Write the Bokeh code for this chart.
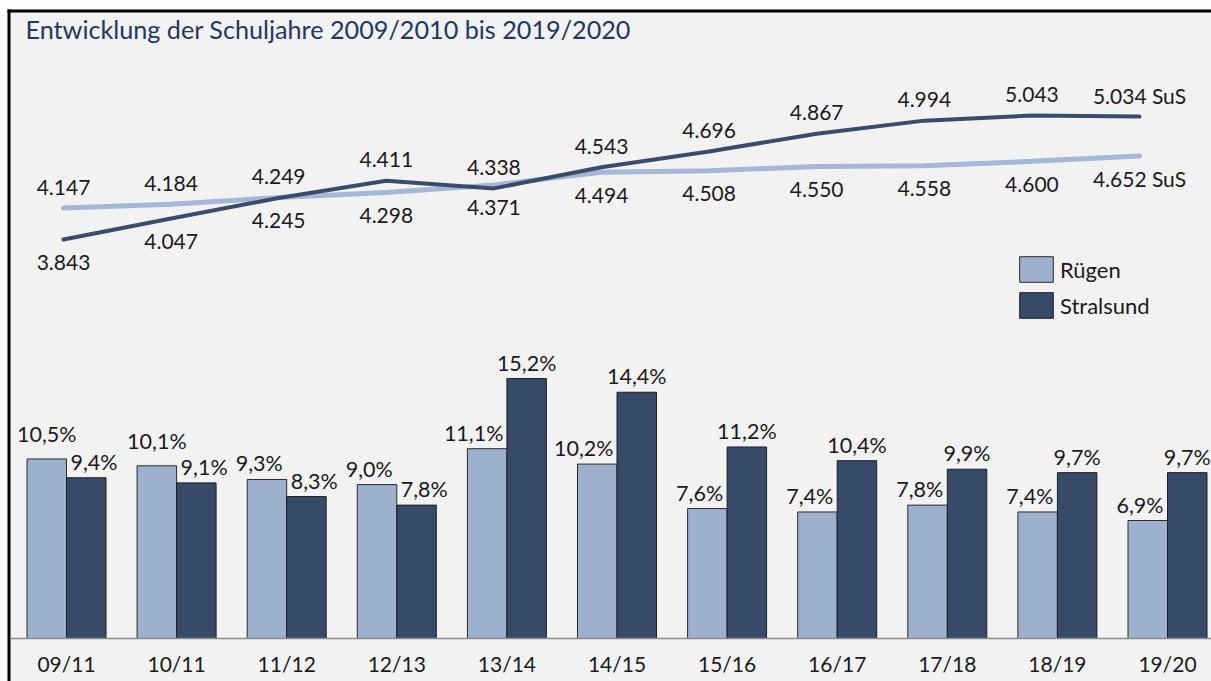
from bokeh.plotting import figure
from bokeh.models import Range1d, FixedTicker, ColumnDataSource, Label, Legend, LegendItem
from bokeh.transform import dodge
from bokeh.core.properties import value
from bokeh.embed import file_html
from bokeh.resources import INLINE

# ---------------- data ----------------
years = ["09/11", "10/11", "11/12", "12/13", "13/14", "14/15", "15/16", "16/17", "17/18", "18/19", "19/20"]
ruegen_pct = [10.5, 10.1, 9.3, 9.0, 11.1, 10.2, 7.6, 7.4, 7.8, 7.4, 6.9]
stralsund_pct = [9.4, 9.1, 8.3, 7.8, 15.2, 14.4, 11.2, 10.4, 9.9, 9.7, 9.7]
ruegen_sus = [4147, 4184, 4249, 4298, 4371, 4494, 4508, 4550, 4558, 4600, 4652]
stralsund_sus = [3843, 4047, 4245, 4411, 4338, 4543, 4696, 4867, 4994, 5043, 5034]
series_names = ["Rügen", "Stralsund"]
title_text = "Entwicklung der Schuljahre 2009/2010 bis 2019/2020"
unit_suffix = " SuS"

# ---------------- styles ----------------
FONT = "Lato"
C_R_BAR = "#9DB0CE"
C_S_BAR = "#374A6A"
C_R_LINE = "#A5B7D6"
C_S_LINE = "#3A4C6C"
BG = "#F2F2F2"
TXT = "#1A1A1A"

W, H = 1211, 681
BASE_PX = 638             # baseline (px from top)
CAT_STEP = 110.1          # px per category (bars)
CAT_FIRST = 66.0          # px of first category centre
PX_PER_PCT = 17.1
LINE_STEP = 107.6         # px per category (lines)
LINE_FIRST = 63.0
L_SLOPE = 0.10327         # px per pupil
L_REF_V, L_REF_PX = 3843, 239.0   # pupil value -> px from top

x0 = -CAT_FIRST / CAT_STEP
y0 = -(H - BASE_PX) / PX_PER_PCT
lx0 = -LINE_FIRST / LINE_STEP
ly0 = L_REF_V - (H - L_REF_PX) / L_SLOPE

def px_x(px):
    return x0 + px / CAT_STEP

def px_y(py):
    return y0 + (H - py) / PX_PER_PCT

p = figure(width=W, height=H, output_backend="svg", toolbar_location=None,
           x_range=Range1d(x0, x0 + W / CAT_STEP),
           y_range=Range1d(y0, y0 + H / PX_PER_PCT),
           y_axis_location=None,
           min_border_left=0, min_border_right=0, min_border_top=0, min_border_bottom=0)
p.extra_x_ranges = {"lx": Range1d(lx0, lx0 + W / LINE_STEP)}
p.extra_y_ranges = {"ly": Range1d(ly0, ly0 + H / L_SLOPE)}
p.background_fill_color = BG
p.border_fill_color = "white"
p.outline_line_color = None
p.grid.visible = False

idx = list(range(len(years)))

def pct_label(v):
    return f"{v:.1f}%".replace(".", ",")

def sus_label(v, last):
    return f"{v:,}".replace(",", ".") + (unit_suffix if last else "")

BAR_W_PX = 39.5
half = BAR_W_PX / 2 / CAT_STEP

def shift_px(lbl):
    nd = sum(ch.isdigit() for ch in lbl)
    w = nd * 11.5 + 22
    return max(0.0, w / 2 - BAR_W_PX / 2 + 5)

LBL_OFF = -16
r_dx, s_dx, r_dy = [], [], []
for r, s in zip(ruegen_pct, stralsund_pct):
    r_shift = (s >= r or r < 10)
    r_dx.append(-shift_px(pct_label(r)) if r_shift else 0.0)
    s_dx.append(shift_px(pct_label(s)) if s < r else 0.0)
    r_dy.append(LBL_OFF if r_shift else LBL_OFF - 9)

src = ColumnDataSource(dict(
    idx=idx, r=ruegen_pct, s=stralsund_pct,
    rl=[pct_label(v) for v in ruegen_pct], sl=[pct_label(v) for v in stralsund_pct],
    rdx=r_dx, sdx=s_dx, rdy=r_dy,
))

br = p.vbar(x=dodge("idx", -half, range=p.x_range), top="r", bottom=0, width=2 * half, source=src,
            fill_color=C_R_BAR, line_color="#2b2b2b", line_width=1)
bs = p.vbar(x=dodge("idx", half, range=p.x_range), top="s", bottom=0, width=2 * half, source=src,
            fill_color=C_S_BAR, line_color="#1f1f1f", line_width=1)

p.text(x=dodge("idx", -half, range=p.x_range), y="r", text="rl", source=src, x_offset="rdx", y_offset="rdy",
       text_align="center", text_baseline="middle", text_font=value(FONT),
       text_font_size="21.5px", text_color=TXT)
p.text(x=dodge("idx", half, range=p.x_range), y="s", text="sl", source=src, x_offset="sdx", y_offset=LBL_OFF,
       text_align="center", text_baseline="middle", text_font=value(FONT),
       text_font_size="21.5px", text_color=TXT)

# ---------------- lines ----------------
n = len(years)
crossed = []
c = False
for r, s in zip(ruegen_sus, stralsund_sus):
    if s > r:
        c = True
    crossed.append(c)
lsrc = ColumnDataSource(dict(
    idx=idx, r=ruegen_sus, s=stralsund_sus,
    rl=[sus_label(v, i == n - 1) for i, v in enumerate(ruegen_sus)],
    sl=[sus_label(v, i == n - 1) for i, v in enumerate(stralsund_sus)],
    roff=[23 if cr else -21 for cr in crossed],
    soff=[-21 if cr else 23 for cr in crossed],
))
p.line("idx", "r", source=lsrc, x_range_name="lx", y_range_name="ly",
       line_color=C_R_LINE, line_width=5, line_cap="round")
p.line("idx", "s", source=lsrc, x_range_name="lx", y_range_name="ly",
       line_color=C_S_LINE, line_width=4, line_cap="round", line_join="round")
p.text("idx", "r", text="rl", source=lsrc, x_range_name="lx", y_range_name="ly", y_offset="roff",
       text_align="center", text_baseline="middle", text_font=value(FONT),
       text_font_size="21px", text_color=TXT)
p.text("idx", "s", text="sl", source=lsrc, x_range_name="lx", y_range_name="ly", y_offset="soff",
       text_align="center", text_baseline="middle", text_font=value(FONT),
       text_font_size="21px", text_color=TXT)

# ---------------- frame border (white margin + black rule) ----------------
p.quad(left=[px_x(0), px_x(0)], right=[px_x(7), px_x(W)],
       top=[px_y(0), px_y(0)], bottom=[px_y(H), px_y(9)],
       fill_color="white", line_color=None)
p.quad(left=[px_x(7), px_x(7)], right=[px_x(10), px_x(W)],
       top=[px_y(9), px_y(9)], bottom=[px_y(H), px_y(12)],
       fill_color="black", line_color=None)

# ---------------- axis ----------------
ax = p.xaxis[0]
ax.fixed_location = 0
ax.bounds = (px_x(10), px_x(W))
ax.ticker = FixedTicker(ticks=idx)
ax.major_label_overrides = {i: y for i, y in enumerate(years)}
ax.major_tick_line_color = None
ax.minor_tick_line_color = None
ax.axis_line_color = "#8C8C8C"
ax.axis_line_width = 1.5
ax.major_label_text_font = FONT
ax.major_label_text_font_size = "21px"
ax.major_label_text_color = TXT
ax.major_label_standoff = 6

# ---------------- title ----------------
p.add_layout(Label(x=px_x(25), y=px_y(28), text=title_text,
                   text_font=FONT, text_font_size="25.2px", text_color="#1F3864",
                   text_baseline="middle", text_align="left"))

# ---------------- legend ----------------
legend = Legend(items=[LegendItem(label=series_names[0], renderers=[br]),
                       LegendItem(label=series_names[1], renderers=[bs])],
                location=(1015, 360), orientation="vertical",
                glyph_width=42, glyph_height=32, spacing=4, padding=0, margin=0,
                label_standoff=3, label_text_font=FONT, label_text_font_size="22px",
                label_text_color=TXT, border_line_color=None, background_fill_alpha=0)
p.add_layout(legend)

open("out.html", "w").write(file_html(p, INLINE))
